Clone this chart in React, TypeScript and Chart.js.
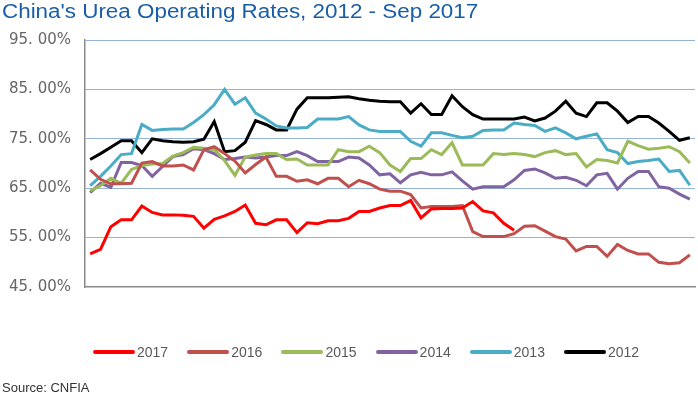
import React, { useEffect, useRef } from "react";
import { Chart, registerables } from "chart.js";

Chart.register(...registerables);

const TITLE = "China's Urea Operating Rates, 2012 - Sep 2017";
const SOURCE = "Source: CNFIA";

const weeks = [
  "1", "2", "3", "4", "5", "6", "7", "8", "9", "10",
  "11", "12", "13", "14", "15", "16", "17", "18", "19", "20",
  "21", "22", "23", "24", "25", "26", "27", "28", "29", "30",
  "31", "32", "33", "34", "35", "36", "37", "38", "39", "40",
  "41", "42", "43", "44", "45", "46", "47", "48", "49", "50",
  "51", "52", "53", "54", "55", "56", "57", "58", "59",
];

const yMin = 45;
const yMax = 95;
const yStep = 10;

const rate2017 = [
  51.7, 52.6, 57.2, 58.6, 58.6, 61.4, 60.1, 59.6, 59.6, 59.5,
  59.3, 56.9, 58.7, 59.4, 60.3, 61.6, 57.9, 57.6, 58.6, 58.6,
  56.0, 58.0, 57.8, 58.4, 58.4, 58.9, 60.3, 60.3, 61.0, 61.5,
  61.5, 62.5, 59.0, 60.8, 60.9, 60.9, 61.0, 62.3, 60.4, 60.0,
  57.9, 56.5,
];

const rate2016 = [
  68.7, 66.8, 65.9, 65.9, 66.0, 70.1, 70.4, 69.5, 69.5, 69.7,
  68.7, 72.8, 73.4, 72.0, 70.5, 68.1, 69.8, 71.3, 67.4, 67.4,
  66.4, 66.7, 65.9, 67.0, 67.0, 65.3, 66.6, 65.9, 64.8, 64.4,
  64.4, 63.7, 61.0, 61.3, 61.3, 61.3, 61.5, 56.2, 55.2, 55.2,
  55.2, 55.8, 57.3, 57.4, 56.3, 55.2, 54.7, 52.3, 53.2, 53.2,
  51.2, 53.6, 52.4, 51.7, 51.7, 50.0, 49.7, 49.9, 51.5,
];

const rate2015 = [
  64.5, 65.5, 67.0, 66.0, 68.8, 69.6, 69.9, 70.0, 71.5, 72.2,
  73.3, 73.1, 72.8, 70.6, 67.6, 71.3, 71.7, 72.0, 72.0, 70.8,
  70.9, 69.7, 69.7, 69.7, 72.8, 72.4, 72.4, 73.5, 72.2, 69.7,
  68.4, 71.0, 71.0, 72.8, 71.8, 74.2, 69.7, 69.7, 69.7, 72.0,
  71.8, 72.0, 71.8, 71.4, 72.2, 72.6, 71.8, 72.0, 69.3, 70.8,
  70.6, 70.1, 74.5, 73.6, 72.9, 73.1, 73.4, 72.4, 70.1,
];

const rate2014 = [
  64.1, 66.0, 65.2, 70.2, 70.2, 69.6, 67.4, 69.4, 71.4, 71.8,
  73.0, 72.8, 72.0, 70.8, 71.0, 71.3, 71.1, 71.3, 71.6, 71.6,
  72.4, 71.6, 70.4, 70.4, 70.4, 71.3, 71.1, 69.7, 67.7, 67.9,
  66.1, 67.7, 68.2, 67.7, 67.7, 68.3, 66.5, 64.8, 65.3, 65.3,
  65.3, 66.7, 68.6, 68.9, 68.1, 67.0, 67.2, 66.6, 65.5, 67.7,
  68.0, 64.8, 67.0, 68.4, 68.4, 65.3, 65.0, 63.8, 62.8,
];

const rate2013 = [
  65.5, 67.4, 69.5, 71.8, 72.0, 77.9, 76.7, 76.9, 77.0, 77.0,
  78.3, 79.9, 81.9, 85.0, 82.0, 83.3, 80.2, 79.0, 77.6, 77.2,
  77.2, 77.3, 79.0, 79.0, 79.0, 79.5, 77.8, 76.8, 76.5, 76.5,
  76.5, 74.5, 73.5, 76.2, 76.2, 75.7, 75.2, 75.5, 76.7, 76.8,
  76.8, 78.2, 77.9, 77.7, 76.5, 77.2, 76.2, 75.0, 75.5, 76.0,
  72.8, 72.2, 70.0, 70.4, 70.6, 70.9, 68.4, 68.6, 65.6,
];

const rate2012 = [
  70.8, 72.0, 73.3, 74.6, 74.6, 72.2, 75.0, 74.6, 74.4, 74.3,
  74.4, 74.9, 78.5, 72.4, 72.6, 74.3, 78.7, 77.9, 76.8, 76.8,
  81.0, 83.3, 83.3, 83.3, 83.4, 83.5, 83.1, 82.8, 82.6, 82.5,
  82.5, 80.2, 82.1, 79.9, 79.9, 83.7, 81.5, 79.9, 79.0, 79.0,
  79.0, 79.0, 79.4, 78.6, 79.2, 80.6, 82.6, 80.2, 79.5, 82.3,
  82.3, 80.6, 78.3, 79.5, 79.5, 78.2, 76.5, 74.7, 75.2,
];

const seriesNames = ["2017", "2016", "2015", "2014", "2013", "2012"];
const seriesValues = [rate2017, rate2016, rate2015, rate2014, rate2013, rate2012];
const seriesColors = ["#FF0000", "#C0504D", "#9BBB59", "#8064A2", "#4BACC6", "#000000"];

export default function App() {
  const canvasRef = useRef<HTMLCanvasElement>(null);

  useEffect(() => {
    const canvas = canvasRef.current;
    if (!canvas) return;
    const chart = new Chart(canvas, {
      type: "line",
      data: {
        labels: weeks,
        datasets: seriesNames.map((name, i) => ({
          label: name,
          data: seriesValues[i],
          borderColor: seriesColors[i],
          backgroundColor: seriesColors[i],
          borderWidth: 3,
          pointRadius: 0,
          tension: 0,
          fill: false,
        })),
      },
      options: {
        responsive: false,
        animation: false,
        layout: { padding: { top: 40, right: 3, bottom: 109, left: 0 } },
        plugins: {
          legend: { display: false },
          title: { display: false },
          tooltip: { enabled: false },
        },
        scales: {
          x: {
            type: "category",
            offset: true,
            grid: { display: false, drawTicks: false },
            ticks: { display: false },
            border: { display: true, color: "#8a8a8a", width: 1.5 },
            afterFit: (s: any) => {
              s.height = 0;
            },
          },
          y: {
            min: yMin,
            max: yMax,
            ticks: {
              stepSize: yStep,
              padding: 14,
              color: "#666666",
              font: { family: "'DejaVu Sans', sans-serif", size: 15 },
              callback: (v: any) => Number(v).toFixed(2).replace(".", ". ") + "%",
            },
            grid: {
              drawTicks: false,
              lineWidth: 1,
              color: (ctx: any) =>
                ctx.tick && ctx.tick.value === yMin ? "rgba(0,0,0,0)" : "#95B3D7",
            },
            border: { display: true, color: "#8a8a8a", width: 1.5 },
            afterFit: (s: any) => {
              s.width = 85;
            },
          },
        },
      },
    });
    return () => chart.destroy();
  }, []);

  return (
    <div
      style={{
        position: "fixed",
        left: 0,
        top: 0,
        width: 698,
        height: 396,
        background: "#ffffff",
        overflow: "hidden",
      }}
    >
      <canvas
        ref={canvasRef}
        width={698}
        height={396}
        style={{ position: "absolute", left: 0, top: 0, width: 698, height: 396 }}
      />
      <div
        style={{
          position: "absolute",
          left: 2,
          top: -1,
          fontFamily: "'Liberation Sans', Arial, sans-serif",
          fontSize: 20,
          lineHeight: "24px",
          color: "#1A5EA8",
          whiteSpace: "nowrap",
          transform: "scaleX(1.12)",
          transformOrigin: "0 0",
        }}
      >
        {TITLE}
      </div>
      {seriesNames.map((name, i) => (
        <div
          key={name}
          style={{
            position: "absolute",
            left: 93 + i * 94.2,
            top: 343,
            height: 18,
            display: "flex",
            alignItems: "center",
            whiteSpace: "nowrap",
          }}
        >
          <span
            style={{
              display: "inline-block",
              width: 42,
              height: 4,
              borderRadius: 2,
              background: seriesColors[i],
              marginRight: 2,
            }}
          />
          <span
            style={{
              fontFamily: "'Liberation Sans', Arial, sans-serif",
              fontSize: 14,
              color: "#595959",
            }}
          >
            {name}
          </span>
        </div>
      ))}
      <div
        style={{
          position: "absolute",
          left: 2,
          top: 380,
          fontFamily: "'Liberation Sans', Arial, sans-serif",
          fontSize: 13,
          lineHeight: "16px",
          color: "#333333",
          whiteSpace: "nowrap",
        }}
      >
        {SOURCE}
      </div>
    </div>
  );
}
